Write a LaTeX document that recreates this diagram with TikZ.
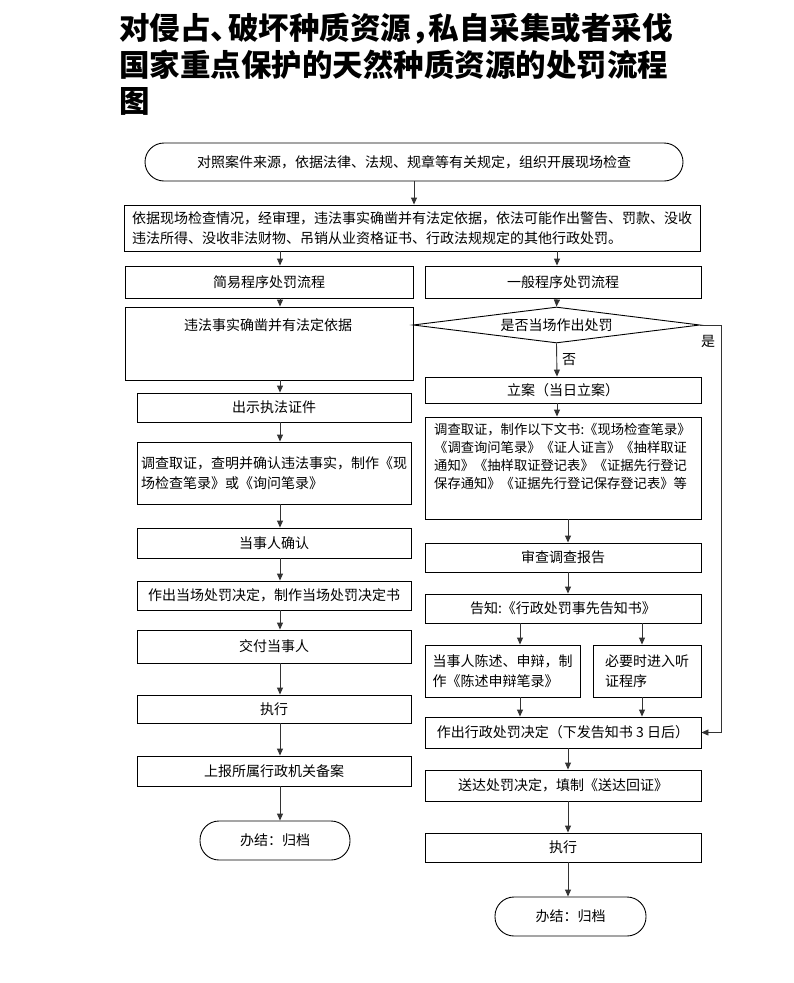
\documentclass[tikz,border=0pt]{standalone}
\usepackage{fontspec}
\setmainfont{Noto Sans CJK SC}
\usetikzlibrary{shapes.geometric,arrows.meta}
\tikzset{
 box/.style={draw, line width=0.9pt, inner sep=0pt, font=\fontsize{14}{20}\selectfont},
 endbox/.style={box, rounded corners=19pt},
 txt/.style={inner sep=0pt, font=\fontsize{14}{20}\selectfont},
 smalltxt/.style={inner sep=0pt, align=left, font=\fontsize{13.3}{18}\selectfont},
 arr/.style={draw=black!80, line width=0.9pt, -{Triangle[length=7pt,width=6pt]}},
}
\newcommand{\punct}[1]{#1\kern-13pt}
\begin{document}
\begin{tikzpicture}[x=1pt,y=-1pt]
 \useasboundingbox (0,0) rectangle (793,983);
 \node[anchor=north west, align=left, inner sep=0pt, font=\fontsize{30.5}{36.5}\selectfont\bfseries] (title) at (119,13) {对侵占\punct{、}破坏种质资源\punct{，}私自采集或者采伐\\国家重点保护的天然种质资源的处罚流程\\图};
 \coordinate (xl) at (280,0);
 \coordinate (xr) at (557,0);
 \coordinate (xs) at (568,0);
 \coordinate (xa) at (520,0);
 \coordinate (xb) at (642,0);
 \node[endbox, minimum width=538, minimum height=38] (start) at (414,162) {对照案件来源，依据法律、法规、规章等有关规定，组织开展现场检查};
 \node[box, minimum width=576, minimum height=46, align=left] (basis) at (412,228) {依据现场检查情况，经审理，违法事实确凿并有法定依据，依法可能作出警告、罚款、没收\\违法所得、没收非法财物、吊销从业资格证书、行政法规规定的其他行政处罚。};
 \node[box, minimum width=288, minimum height=32] (simple) at (269,282) {简易程序处罚流程};
 \node[box, minimum width=276, minimum height=32] (general) at (563,282) {一般程序处罚流程};
 \node[box, minimum width=288, minimum height=73] (fact) at (269,343.5) {};
 \node[txt] (facttext) at (268,325) {违法事实确凿并有法定依据};
 \node[draw, diamond, line width=0.9pt, inner sep=0pt, aspect=8, minimum width=287, minimum height=36, font=\fontsize{14}{20}\selectfont] (ask) at (556.5,325) {是否当场作出处罚};
 \node[box, minimum width=274, minimum height=29] (show) at (274,407.5) {出示执法证件};
 \node[box, minimum width=274, minimum height=62, align=left] (invl) at (274,473) {调查取证，查明并确认违法事实，制作《现\\场检查笔录》或《询问笔录》};
 \node[box, minimum width=274, minimum height=30] (confirm) at (274,543) {当事人确认};
 \node[box, minimum width=274, minimum height=29] (decide) at (274,595.5) {作出当场处罚决定，制作当场处罚决定书};
 \node[box, minimum width=274, minimum height=33] (deliver) at (274,646.5) {交付当事人};
 \node[box, minimum width=274, minimum height=28] (execl) at (274,709) {执行};
 \node[box, minimum width=274, minimum height=30] (report) at (274,771) {上报所属行政机关备案};
 \node[endbox, minimum width=150, minimum height=39] (endl) at (275,840.5) {办结：归档};
 \node[box, minimum width=276, minimum height=26] (file) at (563,390) {立案（当日立案）};
 \node[box, minimum width=276, minimum height=102] (invr) at (563,468) {};
 \node[smalltxt, anchor=north west] (invrtext) at (434,423) {调查取证，制作以下文书:《现场检查笔录》\\《调查询问笔录》《证人证言》《抽样取证\\通知》《抽样取证登记表》《证据先行登记\\保存通知》《证据先行登记保存登记表》等};
 \node[box, minimum width=276, minimum height=29] (review) at (563,557.5) {审查调查报告};
 \node[box, minimum width=276, minimum height=29] (notify) at (563,608.5) {告知:《行政处罚事先告知书》};
 \node[box, minimum width=155, minimum height=52, align=left] (state) at (502.5,671) {当事人陈述、申辩，制\\作《陈述申辩笔录》};
 \node[box, minimum width=108, minimum height=52, align=left] (hearing) at (647,671) {必要时进入听\\证程序};
 \node[box, minimum width=276, minimum height=31] (decision) at (563,732.5) {作出行政处罚决定（下发告知书 3 日后）};
 \node[box, minimum width=276, minimum height=31] (serve) at (563,785.5) {送达处罚决定，填制《送达回证》};
 \node[box, minimum width=276, minimum height=29] (execr) at (563,847.5) {执行};
 \node[endbox, minimum width=151, minimum height=39] (endr) at (570.5,916.5) {办结：归档};
 \draw[arr] (start.south) -- (start.south |- basis.north);
 \draw[arr] (basis.south -| xl) -- (simple.north -| xl);
 \draw[arr] (basis.south -| xr) -- (general.north -| xr);
 \foreach \a/\b in {simple/fact, fact/show, show/invl, invl/confirm, confirm/decide, decide/deliver, deliver/execl, execl/report, report/endl}
  \draw[arr] (\a.south -| xl) -- (\b.north -| xl);
 \draw[arr] (general.south -| xr) -- (ask.north);
 \draw[arr] (ask.south) -- (file.north -| xr) node[txt, pos=0.5, right=5pt] (no) {否};
 \draw[arr] (file.south -| xr) -- (invr.north -| xr);
 \foreach \a/\b in {invr/review, review/notify, decision/serve, serve/execr, execr/endr}
  \draw[arr] (\a.south -| xs) -- (\b.north -| xs);
 \draw[arr] (notify.south -| xa) -- (state.north -| xa);
 \draw[arr] (notify.south -| xb) -- (hearing.north -| xb);
 \draw[arr] (state.south -| xa) -- (decision.north -| xa);
 \draw[arr] (hearing.south -| xb) -- (decision.north -| xb);
 \draw[arr] (ask.east) -- (721,325) |- (decision.east);
 \node[txt] (yes) at (708,341) {是};
\end{tikzpicture}
\end{document}
